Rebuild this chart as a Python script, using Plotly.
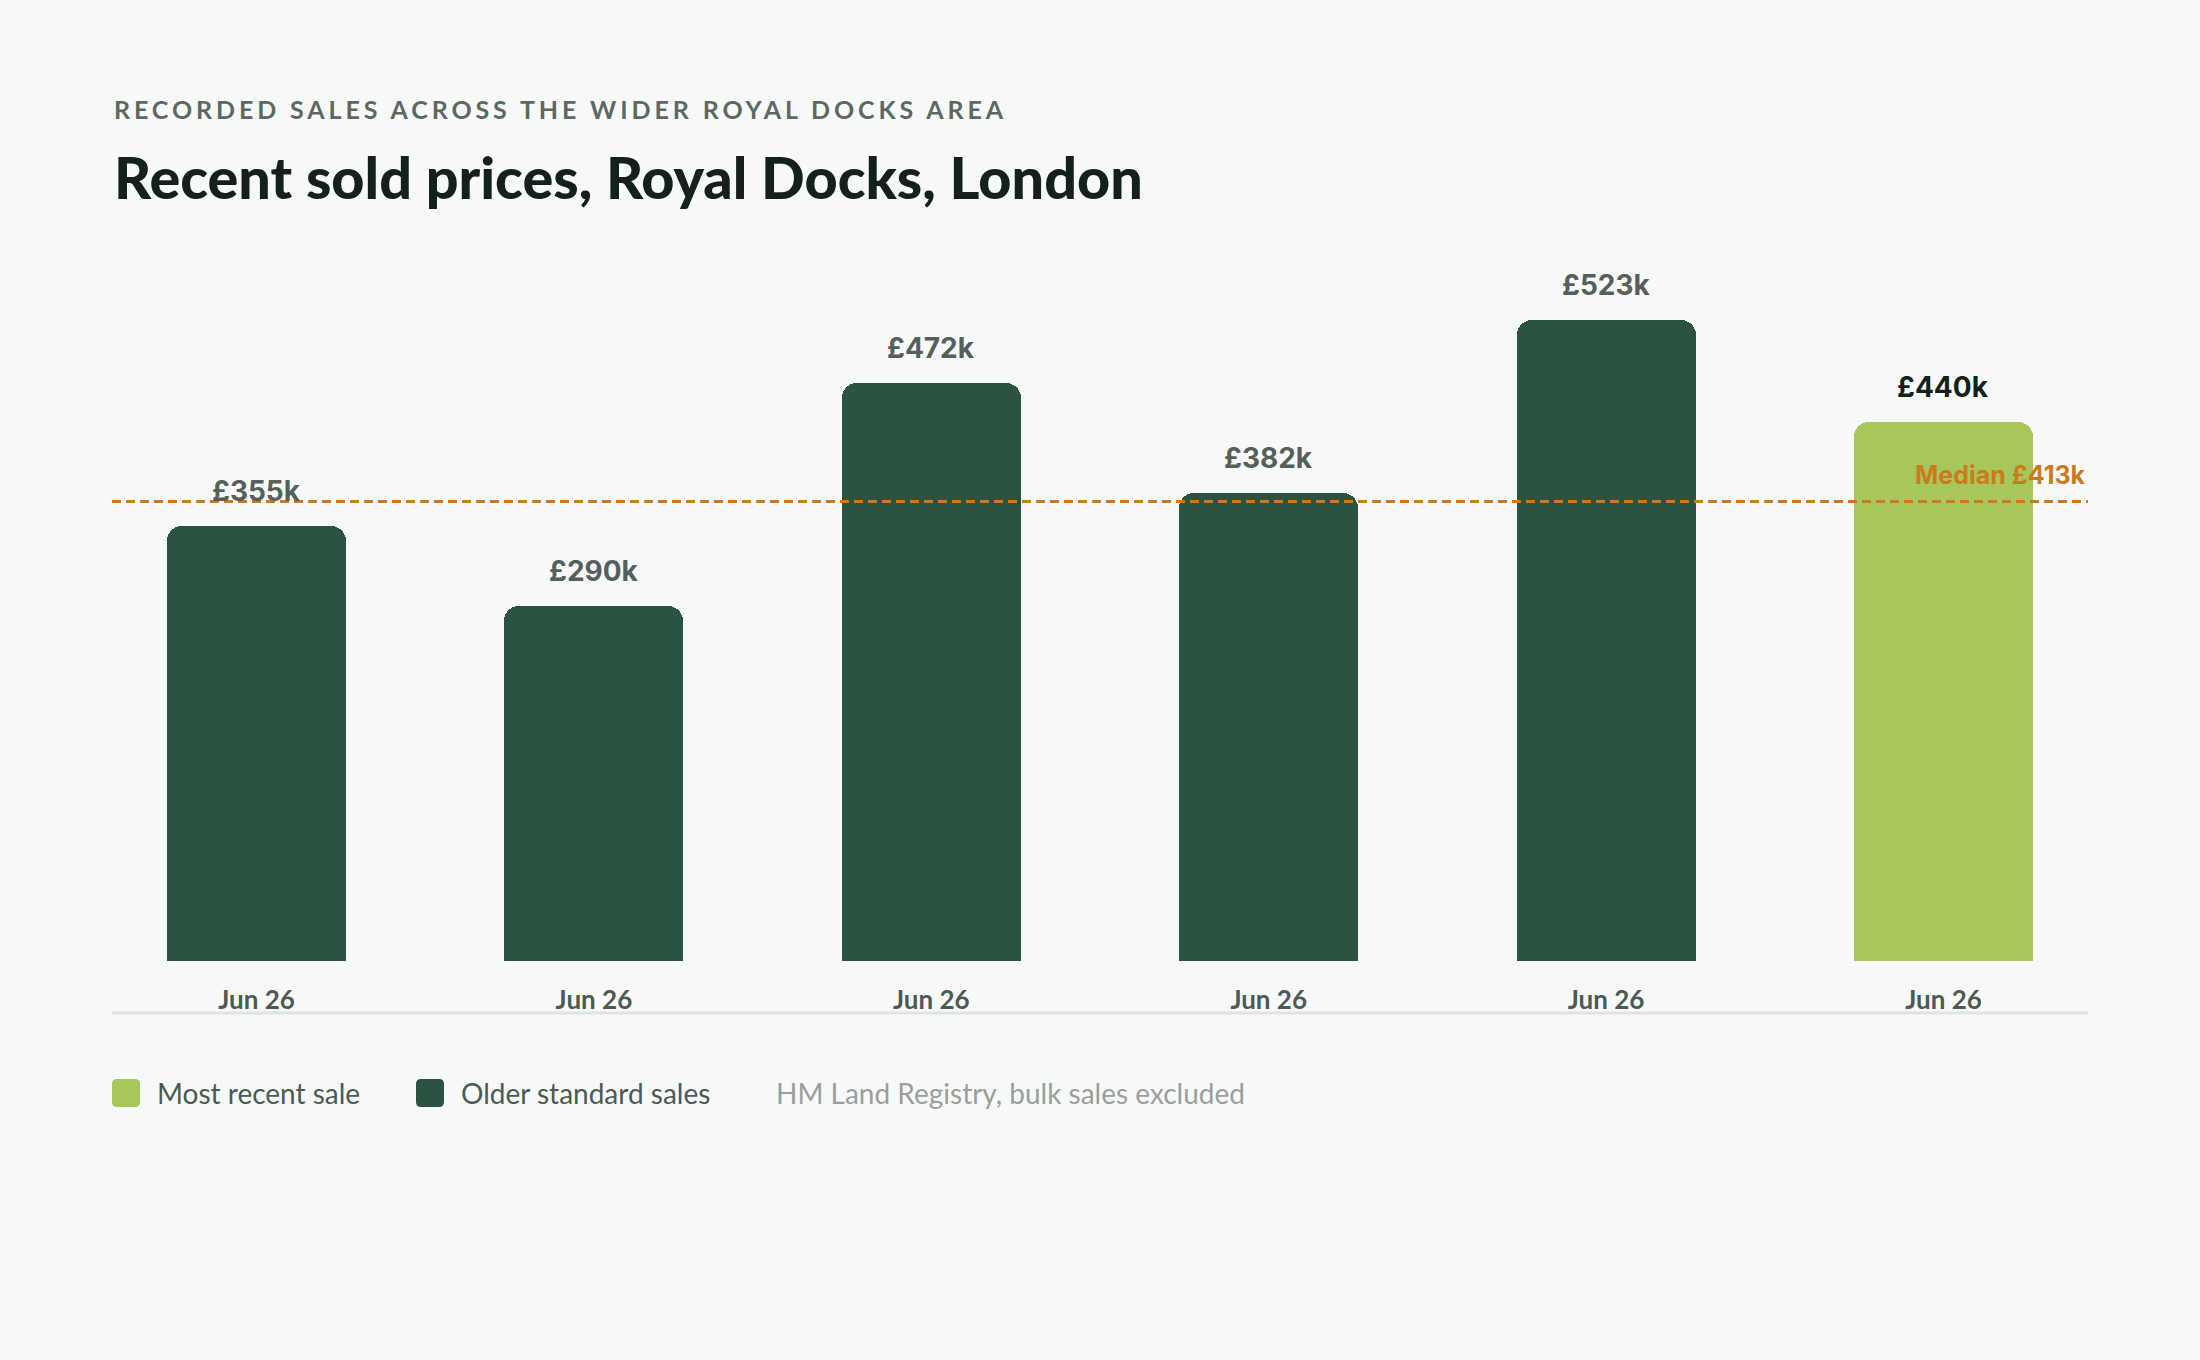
import plotly.graph_objects as go

# ---- data ----
sale_months = ["Jun 26", "Jun 26", "Jun 26", "Jun 26", "Jun 26", "Jun 26"]
prices_k = [355, 290, 472, 382, 523, 440]
is_recent = [False, False, False, False, False, True]
median_label_k = 413
median_line_k = 375  # where the dashed line actually sits on the chart

subtitle = "RECORDED SALES ACROSS THE WIDER ROYAL DOCKS AREA"
title = "Recent sold prices, Royal Docks, London"
legend_items = ["Most recent sale", "Older standard sales"]
source_note = "HM Land Registry, bulk sales excluded"

# ---- styling ----
BG = "#f7f9f8"
DARK = "#2a5341"
LIGHT = "#a7c65b"
ORANGE = "#cc7a1c"
INK = "#14211a"
GREY = "#56605b"

W, H = 2200, 1360
L, R, T, B = 112, 112, 200, 399
plot_w = W - L - R
plot_h = H - T - B


def px_x(px):
    return (px - L) / plot_w


def px_y(py):
    return (H - B - py) / plot_h


xs = list(range(len(prices_k)))
old_x = [x for x, r in zip(xs, is_recent) if not r]
old_y = [p for p, r in zip(prices_k, is_recent) if not r]
new_x = [x for x, r in zip(xs, is_recent) if r]
new_y = [p for p, r in zip(prices_k, is_recent) if r]

fig = go.Figure()
fig.add_trace(go.Bar(x=old_x, y=old_y, marker=dict(color=DARK, cornerradius=15, line_width=0),
                     width=0.53, showlegend=False, hoverinfo="skip"))
fig.add_trace(go.Bar(x=new_x, y=new_y, marker=dict(color=LIGHT, cornerradius=15, line_width=0),
                     width=0.53, showlegend=False, hoverinfo="skip"))

annotations = []
# value labels above bars
for x, p, r in zip(xs, prices_k, is_recent):
    annotations.append(dict(
        x=x, y=p, xref="x", yref="y", text=f"£{p}k", showarrow=False,
        yanchor="bottom", yshift=16,
        font=dict(family="Inter", size=28, color=INK if r else GREY, weight=700),
    ))

# median line label
annotations.append(dict(
    x=1, y=median_line_k, xref="paper", yref="y", text=f"Median £{median_label_k}k",
    showarrow=False, xanchor="right", yanchor="bottom", yshift=9,
    font=dict(family="Inter", size=25, color=ORANGE, weight=700),
))

# subtitle + title
annotations.append(dict(
    x=0, y=px_y(109), xref="paper", yref="paper", text=subtitle, showarrow=False,
    xanchor="left", yanchor="middle",
    font=dict(family="Lato", size=25, color="#5d6862", weight=700),
))
annotations.append(dict(
    x=0, y=px_y(177), xref="paper", yref="paper", text=title, showarrow=False,
    xanchor="left", yanchor="middle",
    font=dict(family="Lato", size=57.5, color=INK, weight=900),
))

# legend + source note
legend_colors = [LIGHT, DARK]
legend_swatch_px = [126, 430]
legend_text_px = [155, 459]
legend_y = px_y(1093)
shapes = []
rr = "M -14,-9 Q -14,-14 -9,-14 L 9,-14 Q 14,-14 14,-9 L 14,9 Q 14,14 9,14 L -9,14 Q -14,14 -14,9 Z"
for name, col, sx, tx in zip(legend_items, legend_colors, legend_swatch_px, legend_text_px):
    shapes.append(dict(type="path", xref="paper", yref="paper", xsizemode="pixel", ysizemode="pixel",
                       xanchor=px_x(sx), yanchor=legend_y, path=rr, fillcolor=col, line_width=0))
    annotations.append(dict(
        x=px_x(tx), y=legend_y, xref="paper", yref="paper", text=name, showarrow=False,
        xanchor="left", yanchor="middle",
        font=dict(family="Lato", size=28, color="#4d5a53"),
    ))
annotations.append(dict(
    x=px_x(774), y=legend_y, xref="paper", yref="paper", text=source_note, showarrow=False,
    xanchor="left", yanchor="middle",
    font=dict(family="Lato", size=28, color="#9a9e9c"),
))

# dashed median line
shapes.append(dict(type="line", xref="paper", yref="y", x0=0, x1=1, y0=median_line_k, y1=median_line_k,
                   line=dict(color=ORANGE, width=3, dash="9px,5px"), layer="above"))
# baseline rule under the tick labels
shapes.append(dict(type="line", xref="paper", yref="paper", x0=0, x1=1, y0=px_y(1013), y1=px_y(1013),
                   line=dict(color="#dce5e0", width=3)))

fig.update_layout(
    width=W, height=H,
    margin=dict(l=L, r=R, t=T, b=B),
    paper_bgcolor=BG, plot_bgcolor=BG,
    bargap=0,
    annotations=annotations,
    shapes=shapes,
    xaxis=dict(range=[-0.4283, 5.4283], tickvals=xs, ticktext=sale_months,
               showgrid=False, zeroline=False, showline=False, ticks="",
               ticklabelstandoff=21,
               tickfont=dict(family="Lato", size=26, color="#4d5a53", weight=700)),
    yaxis=dict(range=[0, plot_h / 1.2256], visible=False, showgrid=False, zeroline=False),
)

# page flush to the window edge, and tracked-out caps for the kicker line
post = """
document.body.style.margin = '0';
document.body.style.background = '#f7f9f8';
document.querySelectorAll('.annotation-text').forEach(function(t){
  if (t.textContent.indexOf('RECORDED') === 0) {
    var b0 = t.getBBox();
    t.style.letterSpacing = '3.9px';
    var b1 = t.getBBox();
    var tr = t.getAttribute('transform') || '';
    t.setAttribute('transform', tr + ' translate(' + (b0.x - b1.x) + ',0)');
  }
});
"""

fig.write_html("out.html", post_script=post, config={"displayModeBar": False})
